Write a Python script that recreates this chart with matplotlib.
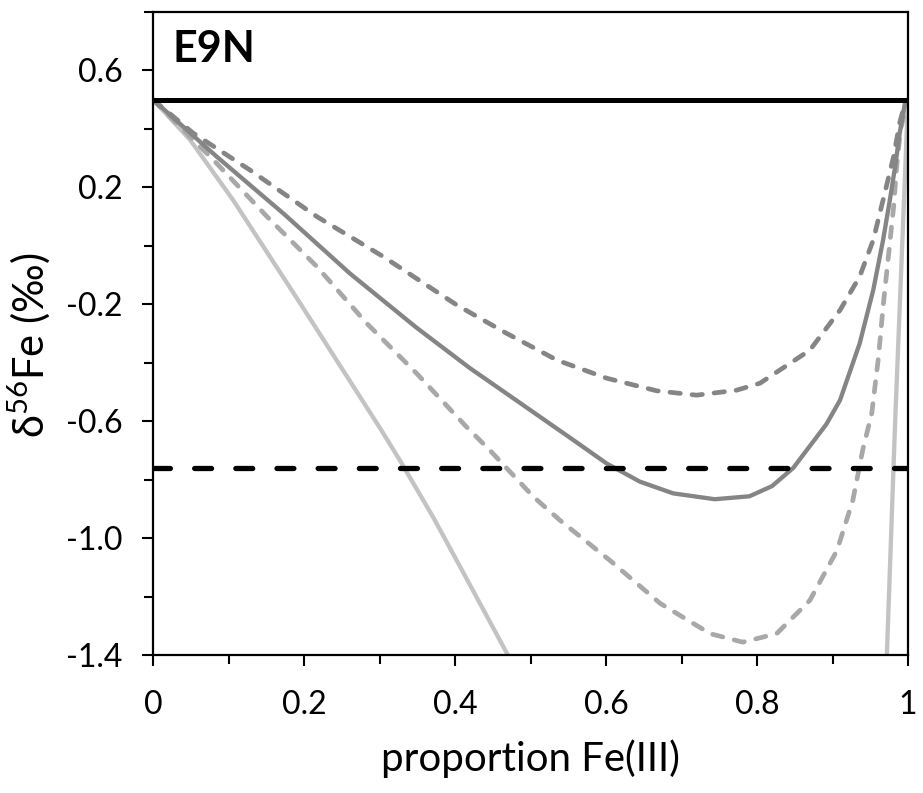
import matplotlib
matplotlib.use("Agg")
import matplotlib.pyplot as plt
import numpy as np

plt.rcParams['font.family'] = ['Lato', 'DejaVu Sans']
plt.rcParams['mathtext.fontset'] = 'custom'
plt.rcParams['mathtext.rm'] = 'Lato'
plt.rcParams['axes.unicode_minus'] = False

# --- data ---
x_dark_dash = [0.0, 0.053, 0.128, 0.217, 0.305, 0.402, 0.468, 0.535, 0.601, 0.667, 0.720, 0.773, 0.804,
               0.870, 0.910, 0.936, 0.954, 0.967, 0.981, 0.989, 0.996, 1.0]
y_dark_dash = [0.5, 0.386, 0.260, 0.100, -0.037, -0.202, -0.299, -0.391, -0.453, -0.496, -0.511, -0.494, -0.470,
               -0.357, -0.220, -0.105, 0.020, 0.157, 0.306, 0.421, 0.489, 0.5]

x_dark_solid = [0.0, 0.084, 0.173, 0.261, 0.349, 0.420, 0.468, 0.557, 0.601, 0.645, 0.689, 0.744, 0.790, 0.820, 0.848,
                0.892, 0.910, 0.936, 0.954, 0.967, 0.976, 0.983, 0.989, 0.996, 1.0]
y_dark_solid = [0.5, 0.306, 0.110, -0.095, -0.280, -0.419, -0.505, -0.665, -0.745, -0.807, -0.847, -0.867, -0.857, -0.822, -0.760,
                -0.610, -0.528, -0.334, -0.151, 0.020, 0.157, 0.272, 0.386, 0.489, 0.5]

x_light_dash = [0.0, 0.080, 0.151, 0.217, 0.283, 0.349, 0.415, 0.446, 0.504, 0.539, 0.605, 0.672, 0.738, 0.781,
                0.826, 0.870, 0.906, 0.927, 0.940, 0.952, 0.961, 0.967, 0.974, 0.981, 0.985, 0.990, 1.0]
y_light_dash = [0.5, 0.294, 0.100, -0.071, -0.265, -0.436, -0.619, -0.699, -0.859, -0.939, -1.076, -1.224, -1.327, -1.356,
                -1.327, -1.213, -1.042, -0.870, -0.699, -0.573, -0.379, -0.208, -0.037, 0.134, 0.271, 0.397, 0.5]

x_light_solid = [0.0, 0.049, 0.106, 0.195, 0.301, 0.327, 0.371, 0.407, 0.470, np.nan, 0.972, 0.983, 1.0]
y_light_solid = [0.5, 0.363, 0.157, -0.197, -0.625, -0.734, -0.928, -1.099, -1.400, np.nan, -1.400, -0.600, 0.5]

initial_value = 0.5
measured_value = -0.76

x_ticks = [0, 0.2, 0.4, 0.6, 0.8, 1.0]
x_ticklabels = ['0', '0.2', '0.4', '0.6', '0.8', '1']
y_ticks = [0.6, 0.2, -0.2, -0.6, -1.0, -1.4]
y_ticklabels = ['0.6', '0.2', '-0.2', '-0.6', '-1.0', '-1.4']

fig = plt.figure(figsize=(9.23, 7.93), dpi=100)
ax = fig.add_axes([153/923, 1-655/793, (908-153)/923, (655-12)/793])

dark = '#858585'
light_dash = '#a8a8a8'
light_solid = '#c3c3c3'

ax.plot(x_light_solid, y_light_solid, color=light_solid, lw=3.1, solid_capstyle='butt')
ax.plot(x_light_dash, y_light_dash, color=light_dash, lw=3.4, linestyle=(0, (2.2, 2.5)), dash_capstyle='round')
ax.plot(x_dark_solid, y_dark_solid, color=dark, lw=3.1)
ax.plot(x_dark_dash, y_dark_dash, color=dark, lw=3.4, linestyle=(0, (2.2, 2.5)), dash_capstyle='round')

ax.axhline(initial_value, color='black', lw=3.6, zorder=5)
ax.axhline(measured_value, color='black', lw=3.8, linestyle=(0, (3.2, 4.6)), dash_capstyle='round', zorder=5)

ax.set_xlim(0, 1)
ax.set_ylim(-1.4, 0.8)

ax.set_xticks(x_ticks)
ax.set_xticklabels(x_ticklabels)
ax.set_xticks([0.1, 0.3, 0.5, 0.7, 0.9], minor=True)
ax.set_yticks(y_ticks)
ax.set_yticklabels(y_ticklabels)
ax.set_yticks([0.8, 0.4, 0.0, -0.4, -0.8, -1.2], minor=True)

ax.tick_params(axis='both', which='major', direction='out', length=8, width=1.5, labelsize=23)
ax.tick_params(axis='both', which='minor', direction='out', length=6.5, width=1.5)
ax.tick_params(axis='x', which='major', pad=17)
ax.tick_params(axis='y', which='major', pad=14)
for s in ax.spines.values():
    s.set_linewidth(1.6)

ax.set_xlabel('proportion Fe(III)', fontsize=29, labelpad=14)
ax.set_ylabel('δ$^{\\mathregular{56}}$Fe (‰)', fontsize=30)
ax.yaxis.set_label_coords(-0.133, 0.482)

ax.text(0.026, 0.672, 'E9N', fontsize=31, fontweight='bold', va='center', ha='left')

fig.savefig('out.png', dpi=100)
